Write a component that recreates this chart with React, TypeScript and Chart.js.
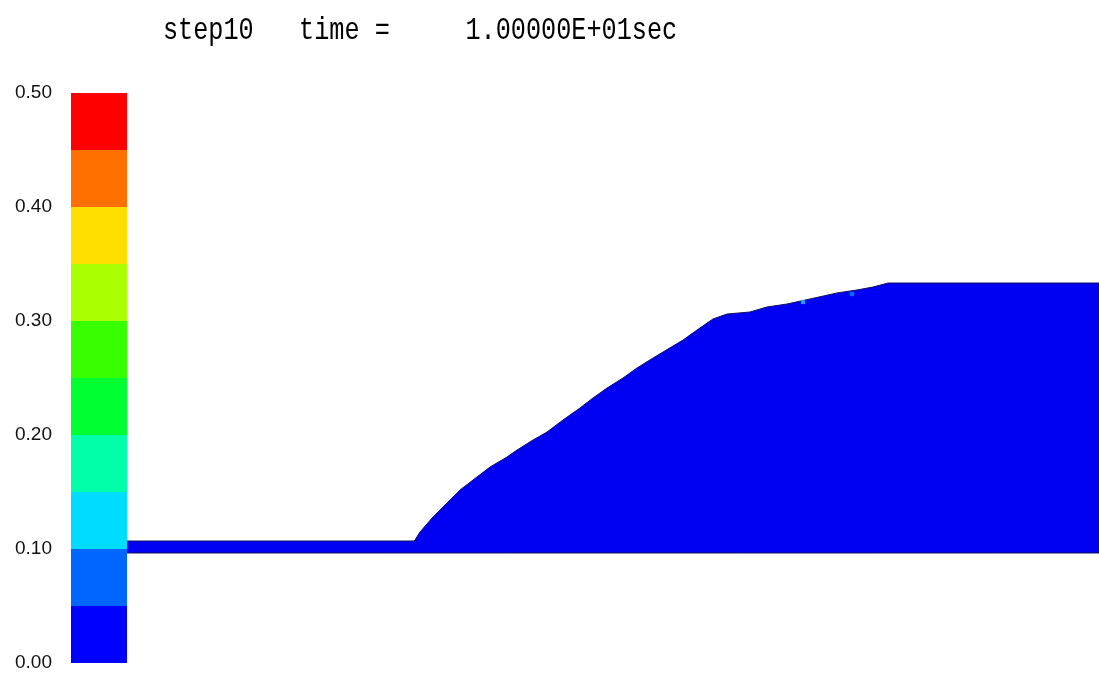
import React, { useEffect, useRef } from "react";
import { Chart, registerables } from "chart.js";

Chart.register(...registerables);

// ---- data ----
const titleText = "step10   time =     1.00000E+01sec";

const bandEdges = [0, 0.05, 0.1, 0.15, 0.2, 0.25, 0.3, 0.35, 0.4, 0.45, 0.5];
const bandColors = [
  "#0000ff",
  "#0066ff",
  "#00dcff",
  "#00ffa8",
  "#00ff30",
  "#38ff00",
  "#aaff00",
  "#ffdf00",
  "#ff7000",
  "#ff0000",
];
const colorbarX = [-56, 0];

const baseLevel = 0.0965;
const profileX = [
  0, 287, 288, 293, 306, 320, 333, 350, 363, 380, 390, 406, 420, 436, 453, 466,
  480, 496, 510, 526, 541, 556, 570, 586, 600, 623, 640, 660, 683, 710, 730, 746,
  761, 972,
];
const profileY = [
  0.107, 0.107, 0.1079, 0.1149, 0.1281, 0.1404, 0.1518, 0.1632, 0.1719, 0.1807,
  0.1868, 0.1956, 0.2026, 0.2132, 0.2237, 0.2325, 0.2412, 0.25, 0.2588, 0.2675,
  0.2754, 0.2833, 0.2921, 0.3018, 0.3061, 0.3079, 0.3123, 0.3149, 0.3193, 0.3246,
  0.3272, 0.3298, 0.3333, 0.3333,
];
const cellX = [676, 725];
const cellY = [0.3167, 0.3237];
const cellColors = ["#1aa0ff", "#0070ff"];

const yTicks = [0, 0.1, 0.2, 0.3, 0.4, 0.5];

export default function App() {
  const ref = useRef<HTMLCanvasElement | null>(null);

  useEffect(() => {
    document.body.style.margin = "0";
    const canvas = ref.current;
    if (!canvas) return;

    const datasets: any[] = [];
    for (let i = 0; i < bandColors.length; i++) {
      datasets.push({
        label: "band" + i,
        data: colorbarX.map((x) => ({ x, y: bandEdges[i + 1] })),
        borderWidth: 0,
        borderColor: "rgba(0,0,0,0)",
        backgroundColor: bandColors[i],
        pointRadius: 0,
        fill: { value: bandEdges[i] },
        order: 5,
      });
    }
    datasets.push({
      label: "domain",
      data: profileX.map((x, i) => ({ x, y: profileY[i] })),
      borderWidth: 1,
      borderColor: "#101060",
      backgroundColor: "#0000f2",
      pointRadius: 0,
      fill: { value: baseLevel },
      order: 3,
    });
    datasets.push({
      label: "base",
      data: [
        { x: profileX[0], y: baseLevel },
        { x: profileX[profileX.length - 1], y: baseLevel },
      ],
      borderWidth: 1,
      borderColor: "#101060",
      pointRadius: 0,
      fill: false,
      order: 2,
    });
    datasets.push({
      label: "cells",
      data: cellX.map((x, i) => ({ x, y: cellY[i] })),
      showLine: false,
      pointStyle: "rect",
      pointRadius: 3,
      pointBorderWidth: 0,
      pointBackgroundColor: cellColors,
      pointBorderColor: cellColors,
      order: 1,
    });

    const titlePlugin = {
      id: "stepTitle",
      afterDraw(chart: any) {
        const ctx = chart.ctx;
        ctx.save();
        ctx.fillStyle = "#000";
        ctx.font = "28px 'Liberation Mono', 'DejaVu Sans Mono', monospace";
        ctx.textBaseline = "alphabetic";
        ctx.translate(163, 39);
        ctx.scale(0.9, 1.1);
        ctx.fillText(titleText, 0, 0);
        ctx.restore();
      },
    };

    const chart = new Chart(canvas, {
      type: "line",
      data: { datasets },
      options: {
        animation: false,
        responsive: false,
        layout: { autoPadding: false, padding: { top: 93, bottom: 12, left: 0, right: 0 } },
        plugins: {
          legend: { display: false },
          tooltip: { enabled: false },
          title: { display: false },
        },
        scales: {
          x: {
            type: "linear",
            min: colorbarX[0],
            max: profileX[profileX.length - 1],
            display: false,
          },
          y: {
            type: "linear",
            min: 0,
            max: 0.5,
            afterFit: (s: any) => {
              s.width = 71;
              s.paddingTop = 0;
              s.paddingBottom = 0;
            },
            afterBuildTicks: (s: any) => {
              s.ticks = yTicks.map((v) => ({ value: v }));
            },
            grid: { display: false, drawTicks: false },
            border: { display: false },
            ticks: {
              padding: 19,
              color: "#111",
              font: { family: "'Liberation Sans', Arial, sans-serif", size: 19 },
              callback: (v: any) => Number(v).toFixed(2),
            },
          },
        },
      },
      plugins: [titlePlugin],
    });
    return () => chart.destroy();
  }, []);

  return (
    <div style={{ position: "absolute", left: 0, top: 0, width: 1099, height: 675 }}>
      <canvas ref={ref} width={1099} height={675} style={{ display: "block" }} />
    </div>
  );
}
